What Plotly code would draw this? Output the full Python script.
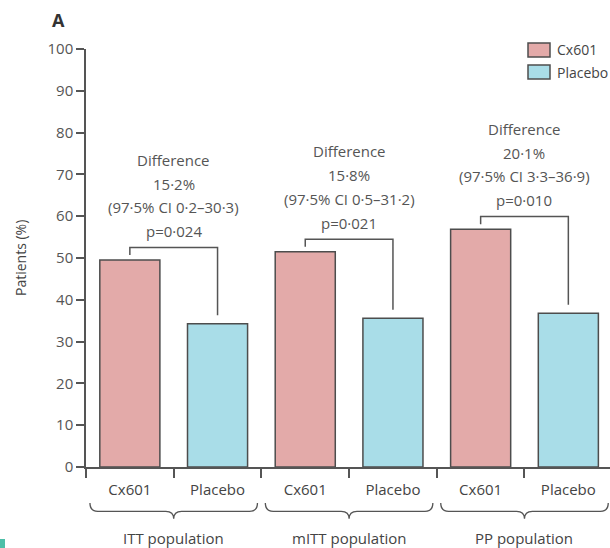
import plotly.graph_objects as go

# ---- data ----
groups = ["ITT population", "mITT population", "PP population"]
arms = ["Cx601", "Placebo"]
cx601_pct = [49.5, 51.5, 56.9]
placebo_pct = [34.3, 35.6, 36.8]
diff_text = ["15·2%", "15·8%", "20·1%"]
ci_text = ["(97·5% CI 0·2–30·3)", "(97·5% CI 0·5–31·2)", "(97·5% CI 3·3–36·9)"]
p_text = ["p=0·024", "p=0·021", "p=0·010"]
y_ticks = list(range(0, 101, 10))

C_CX = "#e3aaa9"
C_PL = "#a9dde8"
EDGE = "#4d4d4d"
GREY = "#555555"
FONT = "Open Sans"

x_cx = [2 * i for i in range(len(groups))]
x_pl = [2 * i + 1 for i in range(len(groups))]
tick_pos = list(range(2 * len(groups)))
tick_txt = arms * len(groups)

fig = go.Figure()
fig.add_trace(go.Bar(x=x_cx, y=cx601_pct, name="Cx601", width=0.685,
                     marker=dict(color=C_CX, line=dict(color=EDGE, width=1.5))))
fig.add_trace(go.Bar(x=x_pl, y=placebo_pct, name="Placebo", width=0.685,
                     marker=dict(color=C_PL, line=dict(color=EDGE, width=1.5))))

shapes = []
annots = []
for i in range(len(groups)):
    a, b = x_cx[i], x_pl[i]
    top = max(cx601_pct[i], placebo_pct[i]) + 3.0
    # bracket
    shapes.append(dict(type="path", xref="x", yref="y",
                       path=f"M{a},{cx601_pct[i] + 1.2} V{top} H{b} V{placebo_pct[i] + 2.0}",
                       line=dict(color=GREY, width=1.5)))
    mid = (a + b) / 2
    for txt, off in zip(["Difference", diff_text[i], ci_text[i], p_text[i]],
                        [21.0, 15.3, 9.7, 3.95]):
        annots.append(dict(x=mid, y=top + off, xref="x", yref="y", text=txt,
                           showarrow=False, yanchor="middle",
                           font=dict(family=FONT, size=15, color=GREY)))
    # brace below the group
    x0, x1 = a - 0.455, b + 0.455
    yt, ym, yp = -0.086, -0.106, -0.124
    d = 0.09
    path = (f"M{x0},{yt} Q{x0},{ym} {x0 + d},{ym} L{mid - d},{ym} "
            f"Q{mid},{ym} {mid},{yp} Q{mid},{ym} {mid + d},{ym} "
            f"L{x1 - d},{ym} Q{x1},{ym} {x1},{yt}")
    shapes.append(dict(type="path", xref="x", yref="paper", path=path,
                       line=dict(color=GREY, width=1.3)))
    annots.append(dict(x=mid, y=-0.17, xref="x", yref="paper", text=groups[i],
                       showarrow=False, yanchor="middle",
                       font=dict(family=FONT, size=15, color="#444444")))

# legend (drawn manually to match box size)
W, H = 524.0, 418.0
def px(xp):
    return (xp - 86) / W
def py(yp):
    return (467 - yp) / H
for name, col, yc in [("Cx601", C_CX, 50), ("Placebo", C_PL, 72)]:
    shapes.append(dict(type="rect", xref="paper", yref="paper",
                       x0=px(528), x1=px(550), y0=py(yc + 7), y1=py(yc - 7),
                       fillcolor=col, line=dict(color=EDGE, width=1.5)))
    annots.append(dict(x=px(555), y=py(yc), xref="paper", yref="paper", text=name,
                       showarrow=False, xanchor="left", yanchor="middle",
                       font=dict(family=FONT, size=14, color="#444444")))

# panel letter
annots.append(dict(x=px(58), y=py(20), xref="paper", yref="paper", text="<b>A</b>",
                   showarrow=False, xanchor="center", yanchor="middle",
                   font=dict(family=FONT, size=18, color="#333333")))
# y title
annots.append(dict(x=px(20), y=0.5, xref="paper", yref="paper", text="Patients (%)",
                   showarrow=False, textangle=-90, xanchor="center", yanchor="middle",
                   font=dict(family=FONT, size=14, color="#444444")))
# small teal page mark
shapes.append(dict(type="rect", xref="paper", yref="paper",
                   x0=px(0), x1=px(5), y0=py(548), y1=py(539),
                   fillcolor="#4dbfa8", line=dict(width=0)))

fig.update_layout(
    width=610, height=548,
    margin=dict(l=86, r=0, t=49, b=81),
    paper_bgcolor="white", plot_bgcolor="white",
    showlegend=False, barmode="overlay",
    shapes=shapes, annotations=annots,
    font=dict(family=FONT, size=15, color=GREY),
)
fig.update_xaxes(range=[-0.5, 5.475], tickvals=tick_pos, ticktext=tick_txt,
                 ticks="outside", ticklen=8, tickcolor="rgba(0,0,0,0)",
                 showline=True, linecolor=GREY, linewidth=1.5, showgrid=False,
                 zeroline=False,
                 tickfont=dict(family=FONT, size=15, color="#444444"),
                 minor=dict(tickvals=[p - 0.5 for p in tick_pos] + [tick_pos[-1] + 0.5],
                            ticks="outside", ticklen=9, tickcolor=GREY, tickwidth=1.5))
fig.update_yaxes(range=[0, 100], tickvals=y_ticks, ticks="outside", ticklen=8,
                 tickcolor=GREY, tickwidth=1.5, showline=True, linecolor=GREY,
                 linewidth=1.5, showgrid=False, zeroline=False,
                 tickfont=dict(family=FONT, size=15, color=GREY))

fig.write_html("out.html")
